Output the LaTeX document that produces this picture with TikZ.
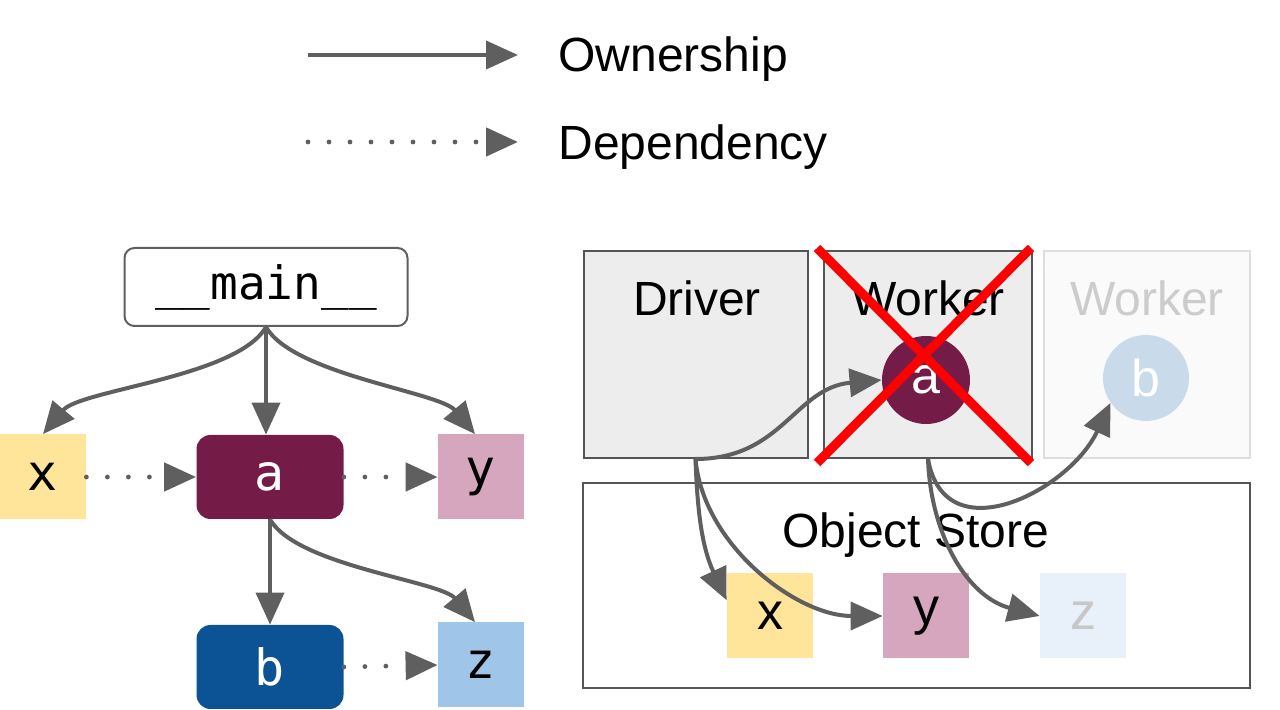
\documentclass[tikz,border=0pt]{standalone}
\usepackage{fontspec}
\setmainfont{Liberation Sans}
\setmonofont{DejaVu Sans Mono}
\usepackage{tikz}
\usetikzlibrary{
    positioning,      % For placing nodes relative to each other
    arrows.meta       % For modern arrow tips (e.g., Triangle)
}

\definecolor{arrow_gray}{HTML}{5F5F5F}
\definecolor{box_gray}{HTML}{555555}
\definecolor{a_maroon}{HTML}{741B47}
\definecolor{b_blue}{HTML}{0B5394}
\definecolor{x_yellow}{HTML}{FFE599}
\definecolor{y_pink}{HTML}{D5A6BD}
\definecolor{z_blue}{HTML}{9FC5E8}
\definecolor{ghost_b}{HTML}{C9DAEA}
\definecolor{ghost_z}{HTML}{E8F0FA}

\newcommand{\labelfont}{\fontsize{24}{28}\selectfont}
\newcommand{\codefont}{\ttfamily\fontsize{25}{28}\selectfont}

\begin{document}
\begin{tikzpicture}[
    x=0.5pt, y=-0.5pt,
    % Style for arrowheads
    arrow_tip/.style={
        -{Triangle[length=16pt, width=14pt]}
    },
    % Ownership: solid gray arrow
    own_line/.style={
        arrow_gray, line width=2pt, arrow_tip
    },
    % Dependency: dotted gray arrow
    dep_line/.style={
        arrow_gray, line width=2.4pt, line cap=round,
        dash pattern=on 0pt off 10.5pt, arrow_tip
    },
    % Square object boxes
    obj_square/.style={
        draw=none, minimum width=43pt, minimum height=42.5pt,
        inner sep=0pt
    },
    % Rounded task boxes of the left graph
    task_box/.style={
        draw=none, rounded corners=7pt, minimum width=73.5pt,
        minimum height=42pt, inner sep=0pt, text=white
    },
    % Process boxes (driver, worker)
    proc_box/.style={
        draw=box_gray, line width=1pt, fill=black!7,
        minimum width=112pt, minimum height=103.5pt, inner sep=0pt
    },
    % Circles inside the workers
    task_circle/.style={
        circle, draw=none, minimum size=44pt, inner sep=0pt, text=white
    },
    % Red cross over the failed worker
    cross_line/.style={
        red, line width=4.5pt
    }
]
    \useasboundingbox (0,0) rectangle (1280,710);

    % 1. Legend
    \coordinate (own_start) at (308,55);
    \coordinate (own_end) at (518,55);
    \coordinate (dep_start) at (308,142);
    \coordinate (dep_end) at (518,142);
    \draw[own_line] (own_start) -- (own_end);
    \draw[dep_line] (dep_start) -- (dep_end);
    \node[anchor=base west, inner sep=0pt, font=\labelfont] (own_text) at (558,72) {Ownership};
    \node[anchor=base west, inner sep=0pt, font=\labelfont] (dep_text) at (558,160) {Dependency};

    % 2. Left graph: the program and its objects
    \node[draw=arrow_gray, line width=1pt, rounded corners=5pt, fill=white,
          minimum width=141.5pt, minimum height=39pt,
          font=\ttfamily\fontsize{23}{26}\selectfont] (main) at (266,287) {\_\_main\_\_};
    \node[obj_square, fill=x_yellow, font=\codefont] (x_left) at (43,477) {x};
    \node[task_box, fill=a_maroon, font=\codefont] (a_left) at (270,477) {a};
    \node[obj_square, fill=y_pink, font=\codefont] (y_left) at (481,477) {y};
    \node[task_box, fill=b_blue, font=\codefont] (b_left) at (270,667) {b};
    \node[obj_square, fill=z_blue, font=\codefont] (z_left) at (481,665) {z};

    \draw[own_line] (main.south) to[out=-120, in=50, looseness=0.6] (x_left.north);
    \draw[own_line] (main.south) -- (main.south |- a_left.north);
    \draw[own_line] (main.south) to[out=-60, in=130, looseness=0.6] ([xshift=-3pt]y_left.north);
    \draw[own_line] (a_left.south) -- (b_left.north);
    \draw[own_line] (a_left.south) to[out=-60, in=130, looseness=0.6] ([xshift=-3pt]z_left.north);
    \draw[dep_line] (x_left.east) -- (a_left.west);
    \draw[dep_line] (a_left.east) -- (y_left.west);
    \draw[dep_line] (b_left.east) -- (z_left.west);

    % 3. Right side: processes and the object store
    \node[proc_box] (driver) at (695.5,354.5) {};
    \node[proc_box, minimum width=104pt] (worker) at (928,354.5) {};
    \node[proc_box, minimum width=103pt, draw=black!13, fill=black!2] (worker_new) at (1147,354.5) {};
    \node[proc_box, fill=white, minimum width=333.5pt, minimum height=102.5pt] (store) at (916.5,585.5) {};

    \node[anchor=base, inner sep=0pt, font=\labelfont] (driver_text) at (697,316) {Driver};
    \node[anchor=base, inner sep=0pt, font=\labelfont] (worker_text) at (928,316) {Worker};
    \node[anchor=base, inner sep=0pt, font=\labelfont, text=black!20] (worker_new_text) at (1147,316) {Worker};
    \node[anchor=base, inner sep=0pt, font=\labelfont] (store_text) at (916,548) {Object Store};

    \node[task_circle, fill=a_maroon, font=\fontsize{26}{28}\selectfont] (a_right) at (926,380) {a};
    \node[task_circle, fill=ghost_b, minimum size=43pt, font=\fontsize{26}{28}\selectfont] (b_right) at (1146,378) {b};
    \node[obj_square, fill=x_yellow, font=\fontsize{26}{28}\selectfont] (x_right) at (770,616) {x};
    \node[obj_square, fill=y_pink, font=\fontsize{26}{28}\selectfont] (y_right) at (926,616) {y};
    \node[obj_square, fill=ghost_z, text=black!22, font=\fontsize{26}{28}\selectfont] (z_right) at (1083,616) {z};

    % 4. Ownership arrows from the driver and the worker
    \draw[own_line] (driver.south) to[out=0, in=185, looseness=1.1] (a_right.west);
    \draw[own_line] (driver.south) to[out=-88, in=115] (x_right.160);
    \draw[own_line] (driver.south) to[out=-85, in=180, looseness=0.9] (y_right.west);
    \draw[own_line] (worker.south) to[out=-88, in=165] (z_right.west);
    \draw[own_line] (worker.south) to[out=-80, in=-115, looseness=1.3] (b_right.215);

    % 5. Red cross over the failed worker
    \draw[cross_line] ([xshift=-3pt, yshift=1pt]worker.north west) -- ([xshift=-1pt, yshift=-2pt]worker.south east);
    \draw[cross_line] ([xshift=-1pt, yshift=1pt]worker.north east) -- ([xshift=-3pt, yshift=-2pt]worker.south west);

\end{tikzpicture}
\end{document}
